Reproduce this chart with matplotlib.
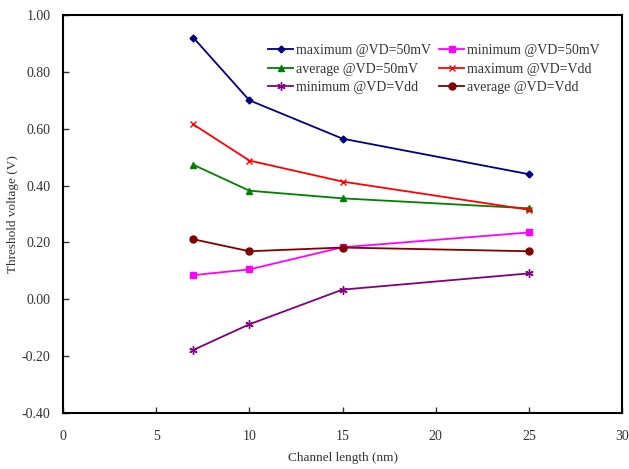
import numpy as np
import matplotlib.pyplot as plt

plt.rcParams['font.family'] = ['Liberation Serif', 'DejaVu Serif']

L = [7, 10, 15, 25]  # channel length (nm)
max_50mV = [0.92, 0.70, 0.565, 0.44]
min_50mV = [0.085, 0.105, 0.183, 0.235]
avg_50mV = [0.473, 0.382, 0.355, 0.32]
max_Vdd = [0.615, 0.488, 0.414, 0.315]
min_Vdd = [-0.178, -0.088, 0.034, 0.091]
avg_Vdd = [0.211, 0.169, 0.182, 0.169]

fig = plt.figure(figsize=(6.29, 4.69), dpi=100)
ax = fig.add_axes([63 / 629, 1 - 413 / 469, (622 - 63) / 629, (413 - 15) / 469])

lw = 1.3
l1, = ax.plot(L, max_50mV, color='#000080', marker='D', ms=3.5, lw=lw, label='maximum @VD=50mV')
l2, = ax.plot(L, avg_50mV, color='#008000', marker='^', ms=4.5, lw=lw, label='average @VD=50mV')
l3, = ax.plot(L, min_Vdd, color='#800080', marker=(6, 2, 0), ms=6, mew=1, lw=lw, label='minimum @VD=Vdd')
l4, = ax.plot(L, min_50mV, color='#ff00ff', marker='s', ms=5, lw=lw, label='minimum @VD=50mV')
l5, = ax.plot(L, max_Vdd, color='#ff0000', marker='x', ms=4.5, mew=1, lw=lw, label='maximum @VD=Vdd')
l6, = ax.plot(L, avg_Vdd, color='#800000', marker='o', ms=5, lw=lw, label='average @VD=Vdd')

ax.set_xlim(0, 30)
ax.set_ylim(-0.4, 1.0)
ax.set_xticks(np.arange(0, 31, 5))
ax.set_yticks(np.arange(-0.4, 1.01, 0.2))
ax.set_yticklabels(['{:.2f}'.format(v) for v in np.arange(-0.4, 1.01, 0.2)])
ax.tick_params(direction='in', length=4, width=1, labelsize=10, colors='#333333', pad=9)
ax.tick_params(axis='x', pad=12)
for s in ax.spines.values():
    s.set_linewidth(1.5)
    s.set_color('black')

ax.set_xlabel('Channel length (nm)', fontsize=9.5, color='#333333', labelpad=7)
ax.set_ylabel('Threshold voltage (V)', fontsize=9.5, color='#333333', labelpad=2)

ax.legend(handles=[l1, l2, l3, l4, l5, l6], ncol=2, frameon=False, fontsize=10,
          loc='upper left', bbox_to_anchor=(0.345, 0.958), handlelength=1.8,
          handletextpad=0.2, columnspacing=0.6, labelspacing=0.4, labelcolor='#333333')

fig.savefig('out.png', dpi=100)
